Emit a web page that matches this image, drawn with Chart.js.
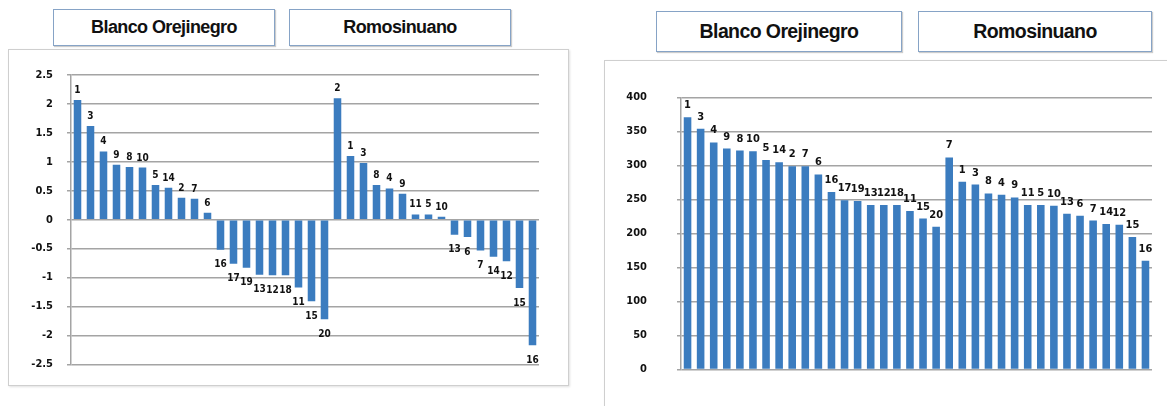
<!DOCTYPE html>
<html>
<head>
<meta charset="utf-8">
<script src="https://cdn.jsdelivr.net/npm/chart.js@4/dist/chart.umd.min.js"></script>
<style>
  body { margin: 0; background: #fff; }
  #page { position: relative; width: 1167px; height: 406px; overflow: hidden; background: #fff; }
  .frame { position: absolute; border: 1px solid #cfcfcf; box-shadow: 1px 1px 2px rgba(0,0,0,0.12); background: #fff; }
  .head {
    position: absolute; box-sizing: border-box;
    border: 1.5px solid #86a3c6;
    background: #fff;
    box-shadow: 1px 1px 1px rgba(0,0,0,0.2);
    font-family: "Liberation Sans", Arial, sans-serif; font-weight: bold;
    color: #111; text-align: center; letter-spacing: -0.6px;
    display: flex; align-items: center; justify-content: center;
  }
  canvas { position: absolute; }
</style>
</head>
<body>
<div id="page">
  <div class="frame" style="left:8px; top:49px; width:559px; height:335px;"></div>
  <div class="frame" style="left:604px; top:60px; width:570px; height:360px;"></div>

  <div class="head" style="left:53px; top:9px; width:222px; height:37px; font-size:18px;">Blanco Orejinegro</div>
  <div class="head" style="left:289px; top:9px; width:222px; height:37px; font-size:18px;">Romosinuano</div>
  <div class="head" style="left:656px; top:11px; width:246px; height:41px; font-size:19.5px;">Blanco Orejinegro</div>
  <div class="head" style="left:918px; top:11px; width:234px; height:41px; font-size:19.5px;">Romosinuano</div>

  <canvas id="leftChart" width="560" height="336" style="left:8px; top:49px;"></canvas>
  <canvas id="rightChart" width="563" height="345" style="left:604px; top:61px;"></canvas>
</div>

<script>
// animal numbers shown over each bar (sorted order, as in the picture)
const blancoNames = ['1','3','4','9','8','10','5','14','2','7','6','16','17','19','13','12','18','11','15','20'];
const romoNamesLeft = ['2','1','3','8','4','9','11','5','10','13','6','7','14','12','15','16'];
const romoNamesRight = ['7','1','3','8','4','9','11','5','10','13','6','7','14','12','15','16'];

// left chart values (Blanco Orejinegro then Romosinuano)
const leftBlanco = [2.07, 1.62, 1.18, 0.95, 0.91, 0.90, 0.60, 0.55, 0.38, 0.36, 0.12,
                    -0.52, -0.76, -0.83, -0.95, -0.96, -0.96, -1.17, -1.41, -1.72];
const leftRomo = [2.10, 1.10, 0.98, 0.60, 0.54, 0.45, 0.09, 0.09, 0.05,
                  -0.26, -0.30, -0.53, -0.64, -0.72, -1.18, -2.17];

// right chart values
const rightBlanco = [371, 354, 334, 325, 322, 321, 308, 305, 299, 299, 287,
                     261, 249, 248, 242, 242, 242, 233, 222, 210];
const rightRomo = [312, 276, 272, 259, 257, 253, 242, 242, 241, 229, 226, 219, 214, 213, 195, 160];

// axis ticks
const leftTicks = { min: -2.5, max: 2.5, step: 0.5 };
const rightTicks = { min: 0, max: 400, step: 50 };

const barColor = '#3b7cbf';
const gridColor = '#a4a4a4';
const labelFont = '"Liberation Sans Narrow", "DejaVu Sans Condensed", "Liberation Sans", sans-serif';


// draws the animal number above (or under) each bar
const barLabels = {
  id: 'barLabels',
  afterDatasetsDraw(chart, args, opts) {
    const ctx = chart.ctx;
    const meta = chart.getDatasetMeta(0);
    const values = chart.data.datasets[0].data;
    ctx.save();
    ctx.fillStyle = '#111';
    ctx.font = 'bold ' + opts.size + 'px ' + labelFont;
    ctx.textAlign = 'center';
    meta.data.forEach((bar, i) => {
      if (values[i] >= 0) {
        ctx.textBaseline = 'alphabetic';
        ctx.fillText(opts.names[i], bar.x, bar.y - opts.above);
      } else {
        ctx.textBaseline = 'top';
        ctx.fillText(opts.names[i], bar.x, bar.y + opts.below);
      }
    });
    ctx.restore();
  }
};


function makeChart(id, values, names, ticks, axisWidth, padding, size, above, below, decimals){
  const cats = values.map((v, i) => i + 1);
  return new Chart(document.getElementById(id), {
    type: 'bar',
    data: {
      labels: cats,
      datasets: [{
        data: values,
        backgroundColor: barColor,
        borderWidth: 0,
        categoryPercentage: 1,
        barPercentage: 0.58
      }]
    },
    options: {
      responsive: false,
      animation: false,
      events: [],
      layout: { padding: padding },
      plugins: {
        legend: { display: false },
        tooltip: { enabled: false },
        barLabels: { names: names, size: size, above: above, below: below }
      },
      scales: {
        x: { display: false },
        y: {
          min: ticks.min,
          max: ticks.max,
          afterFit: (scale) => { scale.width = axisWidth.width },
          grid: { color: gridColor, lineWidth: 1.5, drawTicks: true, tickLength: 4, tickColor: gridColor },
          border: { display: true, color: gridColor, width: 1.5 },
          ticks: {
            stepSize: ticks.step,
            padding: axisWidth.pad,
            color: '#111',
            font: { family: labelFont, size: 11, weight: 'bold' },
            callback: (v) => decimals ? String(+v.toFixed(1)) : String(v)
          }
        }
      }
    },
    plugins: [barLabels]
  });
}

makeChart('leftChart', leftBlanco.concat(leftRomo), blancoNames.concat(romoNamesLeft), leftTicks,
  { width: 63, pad: 14 }, { top: 26, bottom: 20, left: 0, right: 29 }, 10, 7, 10, true);

makeChart('rightChart', rightBlanco.concat(rightRomo), blancoNames.concat(romoNamesRight), rightTicks,
  { width: 77, pad: 30 }, { top: 17, bottom: 20, left: 0, right: 15 }, 11, 9, 10, false);
</script>
</body>
</html>
